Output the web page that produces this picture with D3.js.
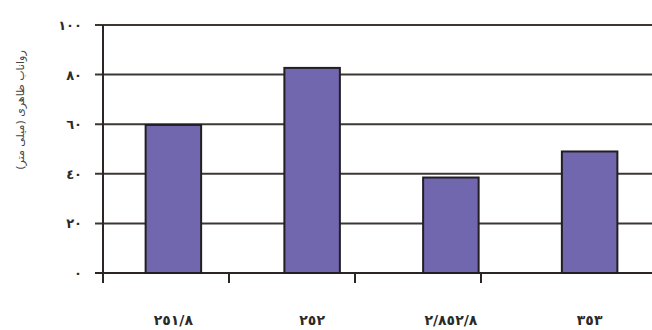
<!DOCTYPE html>
<html>
<head>
<meta charset="utf-8">
<script src="https://cdn.jsdelivr.net/npm/d3@7"></script>
<style>
  html, body { margin: 0; padding: 0; background: #ffffff; }
  svg { display: block; }
</style>
</head>
<body>
<svg id="chart" width="652" height="330"></svg>
<script>
// Apparent runoff per station (mm)
const categories = ["٢٥١/٨", "٢٥٢", "٢/٨٥٢/٨", "٣٥٣"];
const values = [59.7, 82.7, 38.5, 49];
const yTicks = [0, 20, 40, 60, 80, 100];
const yTickLabels = ["٠", "٢٠", "٤٠", "٦٠", "٨٠", "١٠٠"];
const xTickSteps = [0, 1, 2, 3];
const yTitle = "رواناب ظاهری (میلی متر)";

const svg = d3.select("#chart");
const W = 652;
const plotLeft = 103, plotTop = 25, plotBottom = 273;

const y = d3.scaleLinear().domain([0, 100]).range([plotBottom, plotTop]);
const x = d3.scaleBand().domain(categories).range([104, 659])
  .paddingInner(0.6).paddingOuter(0.3);
const xTick = d3.scaleLinear().domain([0, 4]).range([plotLeft, plotLeft + 504]);

const ink = "#2b2624";

// horizontal gridlines, running from the tick stubs to the right edge
svg.append("g").selectAll("line").data(yTicks).join("line")
  .attr("x1", plotLeft - 8).attr("x2", W)
  .attr("y1", d => y(d)).attr("y2", d => y(d))
  .attr("stroke", d => d === 0 ? ink : "#3d3734")
  .attr("stroke-width", 2);

// bars
svg.append("g").selectAll("rect").data(values).join("rect")
  .attr("x", (d, i) => x(categories[i]))
  .attr("y", d => y(d))
  .attr("width", x.bandwidth())
  .attr("height", d => y(0) - y(d))
  .attr("fill", "#7167ae")
  .attr("stroke", "#221e22")
  .attr("stroke-width", 2);

// vertical axis line
svg.append("line")
  .attr("x1", plotLeft).attr("x2", plotLeft)
  .attr("y1", y(100)).attr("y2", y(0) + 10)
  .attr("stroke", ink).attr("stroke-width", 2);

// x-axis tick marks below the baseline
svg.append("g").selectAll("line").data(xTickSteps.slice(1)).join("line")
  .attr("x1", d => xTick(d)).attr("x2", d => xTick(d))
  .attr("y1", y(0)).attr("y2", y(0) + 10)
  .attr("stroke", ink).attr("stroke-width", 2);

// y tick labels
svg.append("g").selectAll("text").data(yTicks).join("text")
  .attr("x", 82)
  .attr("y", d => y(d) + 5)
  .attr("text-anchor", "end")
  .attr("font-family", "DejaVu Sans")
  .attr("font-weight", "bold")
  .attr("font-size", 13)
  .attr("letter-spacing", 1)
  .attr("fill", "#2a2a2a")
  .attr("direction", "ltr")
  .text((d, i) => yTickLabels[i]);

// category labels
svg.append("g").selectAll("text").data(categories).join("text")
  .attr("x", d => x(d) + x.bandwidth() / 2)
  .attr("y", 325)
  .attr("text-anchor", "middle")
  .attr("font-family", "DejaVu Sans")
  .attr("font-weight", "bold")
  .attr("font-size", 14)
  .attr("letter-spacing", 2)
  .attr("fill", "#2a2a2a")
  .attr("direction", "ltr")
  .text(d => d);

// y-axis title
svg.append("text")
  .attr("transform", "translate(24,110) rotate(-90)")
  .attr("text-anchor", "middle")
  .attr("font-family", "DejaVu Sans")
  .attr("font-size", 11)
  .attr("fill", "#444")
  .text(yTitle);
</script>
</body>
</html>
